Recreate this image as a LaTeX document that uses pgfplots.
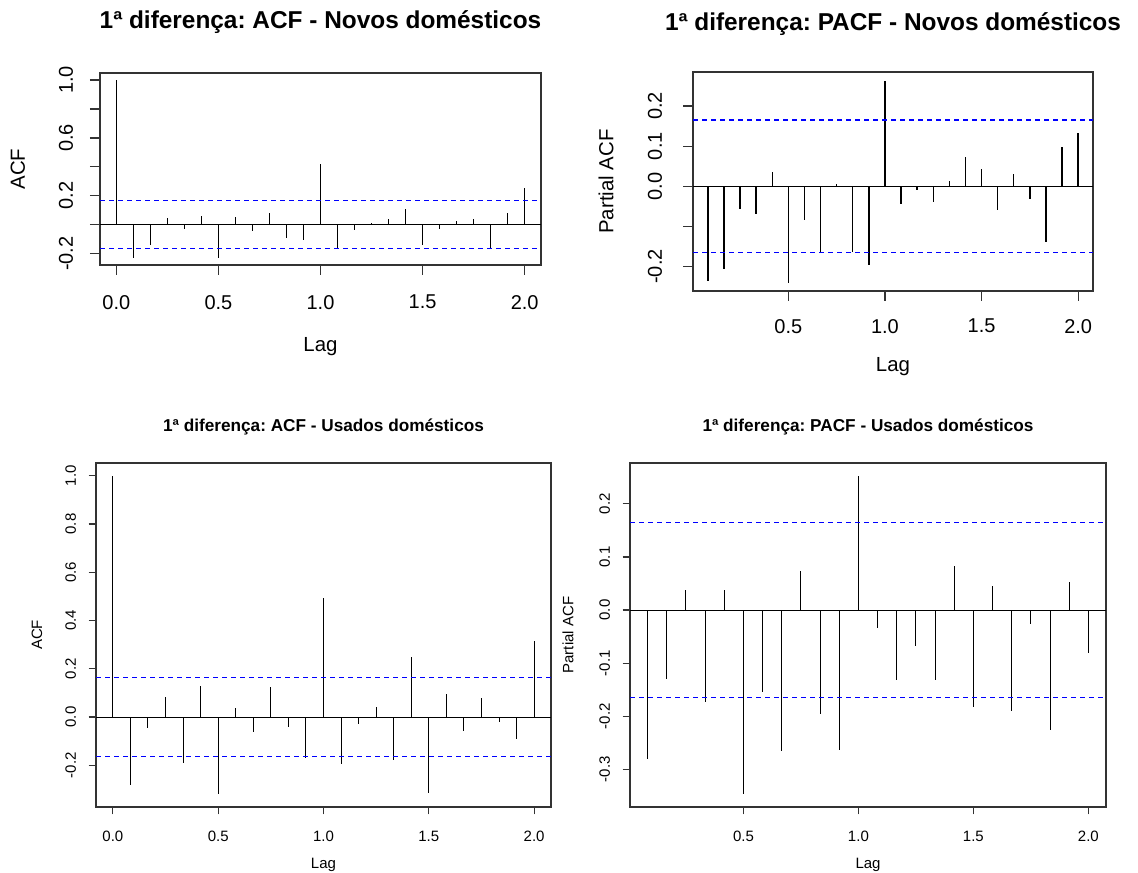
\documentclass[border=0pt]{standalone}
\usepackage{fontspec}
\setmainfont{Liberation Sans}
\usepackage{pgfplots}
\usepackage{pgfplotstable}
\pgfplotsset{compat=1.18}
\frenchspacing

% ACF / PACF values (lag in years, 12 lags per year)
\pgfplotstableread{
lag v
0      1.000
0.0833 -0.228
0.1667 -0.140
0.25    0.046
0.3333 -0.028
0.4167  0.062
0.5    -0.228
0.5833  0.053
0.6667 -0.044
0.75    0.078
0.8333 -0.092
0.9167 -0.106
1       0.417
1.0833 -0.159
1.1667 -0.035
1.25    0.014
1.3333  0.037
1.4167  0.110
1.5    -0.140
1.5833 -0.028
1.6667  0.023
1.75    0.037
1.8333 -0.159
1.9167  0.078
2       0.256
}\acfnovos

\pgfplotstableread{
lag v
0.0833 -0.237
0.1667 -0.207
0.25   -0.057
0.3333 -0.070
0.4167  0.035
0.5    -0.241
0.5833 -0.084
0.6667 -0.164
0.75    0.006
0.8333 -0.164
0.9167 -0.196
1       0.263
1.0833 -0.045
1.1667 -0.008
1.25   -0.040
1.3333  0.013
1.4167  0.073
1.5     0.043
1.5833 -0.059
1.6667  0.030
1.75   -0.032
1.8333 -0.139
1.9167  0.097
2       0.134
}\pacfnovos

\pgfplotstableread{
lag v
0      1.000
0.0833 -0.282
0.1667 -0.044
0.25    0.081
0.3333 -0.192
0.4167  0.128
0.5    -0.320
0.5833  0.036
0.6667 -0.062
0.75    0.124
0.8333 -0.041
0.9167 -0.169
1       0.493
1.0833 -0.195
1.1667 -0.030
1.25    0.043
1.3333 -0.177
1.4167  0.249
1.5    -0.314
1.5833  0.095
1.6667 -0.057
1.75    0.079
1.8333 -0.021
1.9167 -0.090
2       0.316
}\acfusados

\pgfplotstableread{
lag v
0.0833 -0.280
0.1667 -0.129
0.25    0.038
0.3333 -0.174
0.4167  0.038
0.5    -0.347
0.5833 -0.154
0.6667 -0.266
0.75    0.073
0.8333 -0.196
0.9167 -0.263
1       0.253
1.0833 -0.033
1.1667 -0.131
1.25   -0.067
1.3333 -0.131
1.4167  0.083
1.5    -0.183
1.5833  0.045
1.6667 -0.190
1.75   -0.026
1.8333 -0.226
1.9167  0.052
2      -0.080
}\pacfusados

\pgfplotsset{
  rplot/.style={
    scale only axis,
    anchor=south west,
    axis line style={draw=black!80, line width=0.6pt},
    tick style={draw=black!80, line width=0.6pt},
    tick align=outside,
    tick pos=left,
    /pgf/number format/assume math mode=true,
    yticklabel style={rotate=90, anchor=center},
    ylabel style={anchor=center},
    xlabel style={anchor=center},
    title style={anchor=center},
    every axis title shift=0pt,
  },
  big/.style={
    major tick length=5pt,
    tick label style={font=\fontsize{10}{11}\selectfont},
    label style={font=\fontsize{10.2}{11}\selectfont},
    title style={font=\bfseries\fontsize{12.2}{14}\selectfont},
  },
  small/.style={
    major tick length=3.7pt,
    tick label style={font=\fontsize{7.5}{9}\selectfont},
    label style={font=\fontsize{7.5}{9}\selectfont},
    title style={font=\bfseries\fontsize{8.6}{10}\selectfont},
  },
  spike/.style={ycomb, no marks, black, line width=#1},
  ci/.style={blue, line width=#1, dash pattern=on 2.5pt off 2pt},
}

\begin{document}
\begin{tikzpicture}

% top left: ACF novos
\begin{axis}[rplot, big,
  at={(50pt,303.5pt)}, width=220.5pt, height=96pt,
  xmin=-0.08, xmax=2.08, ymin=-0.279, ymax=1.049,
  xtick={0,0.5,1,1.5,2}, xticklabels={0.0,0.5,1.0,1.5,2.0},
  ytick={-0.2,0,0.2,0.4,0.6,0.8,1}, yticklabels={-0.2,,0.2,,0.6,,1.0},
  xticklabel shift=6.5pt, yticklabel shift=12pt,
  title={1ª diferença: ACF - Novos domésticos},
  title style={at={(axis description cs:0.5,1.263)}},
  xlabel={Lag}, xlabel style={at={(axis description cs:0.5,-0.425)}},
  ylabel={ACF}, ylabel style={at={(axis description cs:-0.186,0.5)}},
]
\addplot[black, line width=0.6pt] coordinates {(-0.08,0) (2.08,0)};
\addplot[spike=0.7pt] table[x=lag, y=v] {\acfnovos};
\addplot[ci=0.65pt] coordinates {(-0.08,0.165) (2.08,0.165)};
\addplot[ci=0.65pt] coordinates {(-0.08,-0.165) (2.08,-0.165)};
\end{axis}

% top right: PACF novos
\begin{axis}[rplot, big,
  at={(346.5pt,290.5pt)}, width=200pt, height=109.5pt,
  xmin=0.0067, xmax=2.0767, ymin=-0.261, ymax=0.285,
  xtick={0.5,1,1.5,2}, xticklabels={0.5,1.0,1.5,2.0},
  ytick={-0.2,-0.1,0,0.1,0.2}, yticklabels={-0.2,,0.0,0.1,0.2},
  xticklabel shift=5.5pt, yticklabel shift=14pt,
  title={1ª diferença: PACF - Novos domésticos},
  title style={at={(axis description cs:0.5,1.219)}},
  xlabel={Lag}, xlabel style={at={(axis description cs:0.5,-0.345)}},
  ylabel={Partial ACF}, ylabel style={at={(axis description cs:-0.2175,0.5)}},
]
\addplot[black, line width=0.6pt] coordinates {(0.0067,0) (2.0767,0)};
\addplot[spike=0.7pt] table[x=lag, y=v] {\pacfnovos};
\addplot[ci=0.65pt] coordinates {(0.0067,0.165) (2.0767,0.165)};
\addplot[ci=0.65pt] coordinates {(0.0067,-0.165) (2.0767,-0.165)};
\end{axis}

% bottom left: ACF usados
\begin{axis}[rplot, small,
  at={(48pt,32.5pt)}, width=227.5pt, height=172pt,
  xmin=-0.08, xmax=2.08, ymin=-0.373, ymax=1.053,
  xtick={0,0.5,1,1.5,2}, xticklabels={0.0,0.5,1.0,1.5,2.0},
  ytick={-0.2,0,0.2,0.4,0.6,0.8,1}, yticklabels={-0.2,0.0,0.2,0.4,0.6,0.8,1.0},
  xticklabel shift=5pt, yticklabel shift=9pt,
  title={1ª diferença: ACF - Usados domésticos},
  title style={at={(axis description cs:0.5,1.1055)}},
  xlabel={Lag}, xlabel style={at={(axis description cs:0.5,-0.169)}},
  ylabel={ACF}, ylabel style={at={(axis description cs:-0.130,0.5)}},
]
\addplot[black, line width=0.5pt] coordinates {(-0.08,0) (2.08,0)};
\addplot[spike=0.5pt] table[x=lag, y=v] {\acfusados};
\addplot[ci=0.6pt] coordinates {(-0.08,0.165) (2.08,0.165)};
\addplot[ci=0.6pt] coordinates {(-0.08,-0.165) (2.08,-0.165)};
\end{axis}

% bottom right: PACF usados
\begin{axis}[rplot, small,
  at={(315pt,32.5pt)}, width=238pt, height=172pt,
  xmin=0.0067, xmax=2.0767, ymin=-0.371, ymax=0.277,
  xtick={0.5,1,1.5,2}, xticklabels={0.5,1.0,1.5,2.0},
  ytick={-0.3,-0.2,-0.1,0,0.1,0.2}, yticklabels={-0.3,-0.2,-0.1,0.0,0.1,0.2},
  xticklabel shift=5pt, yticklabel shift=9pt,
  title={1ª diferença: PACF - Usados domésticos},
  title style={at={(axis description cs:0.5,1.1055)}},
  xlabel={Lag}, xlabel style={at={(axis description cs:0.5,-0.169)}},
  ylabel={Partial ACF}, ylabel style={at={(axis description cs:-0.130,0.5)}},
]
\addplot[black, line width=0.5pt] coordinates {(0.0067,0) (2.0767,0)};
\addplot[spike=0.5pt] table[x=lag, y=v] {\pacfusados};
\addplot[ci=0.6pt] coordinates {(0.0067,0.165) (2.0767,0.165)};
\addplot[ci=0.6pt] coordinates {(0.0067,-0.165) (2.0767,-0.165)};
\end{axis}

\pgfresetboundingbox
\path[use as bounding box] (0,0) rectangle (569pt,436pt);
\end{tikzpicture}
\end{document}
